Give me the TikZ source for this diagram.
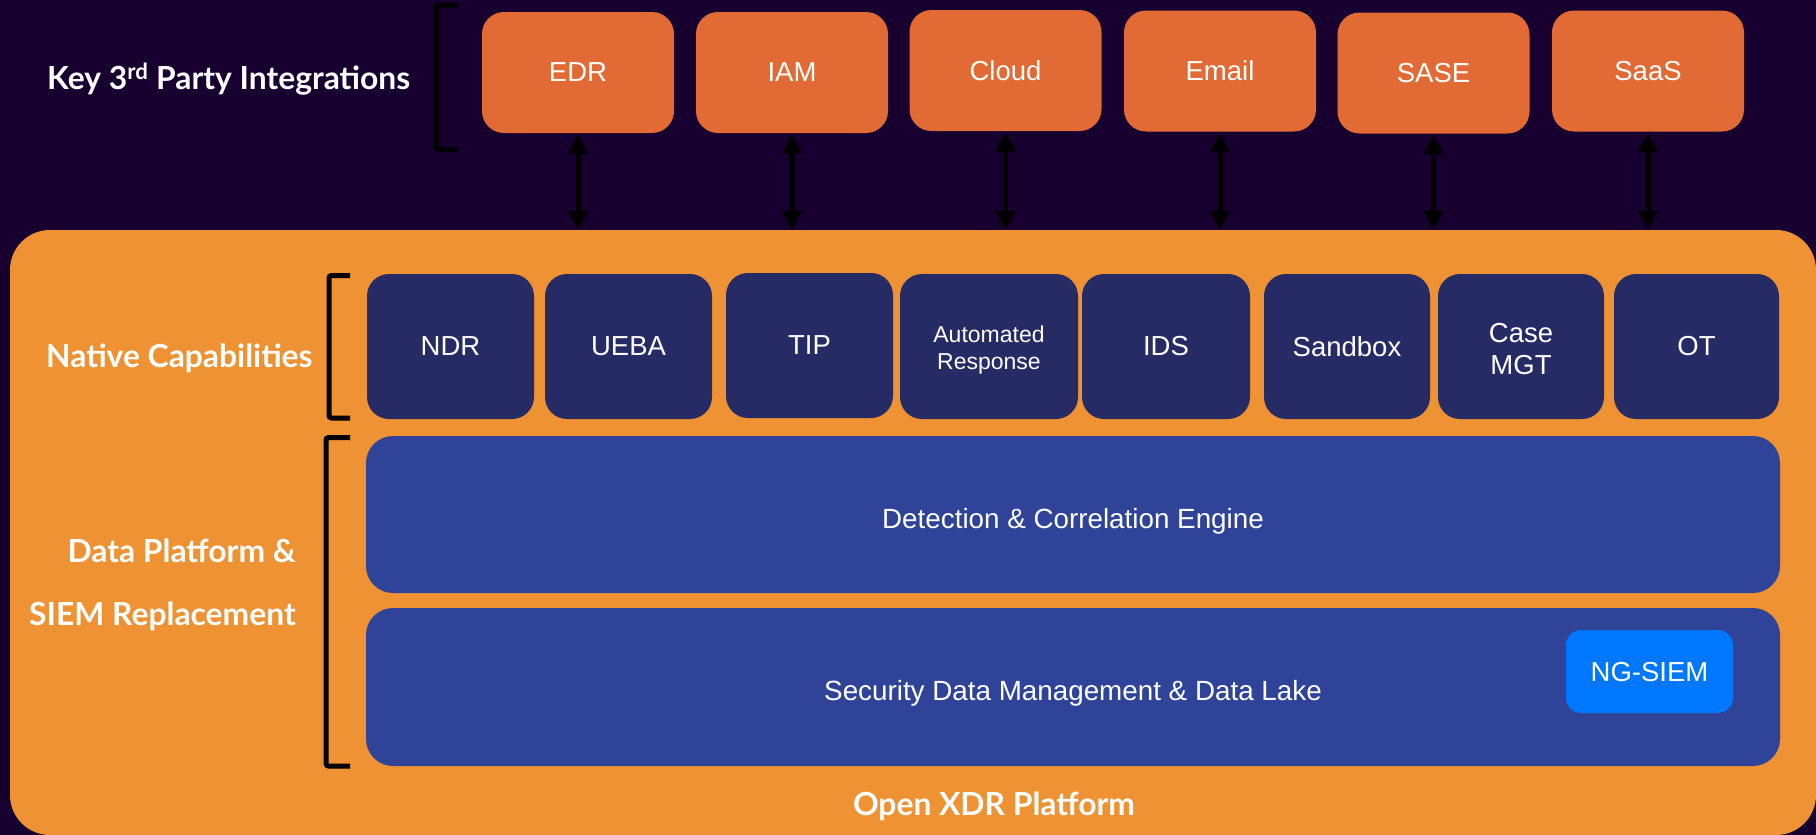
\documentclass[tikz,border=0pt]{standalone}
\usepackage{fontspec}
\setmainfont{Liberation Sans}
\newfontfamily\latofont{Lato}
\usetikzlibrary{arrows.meta}

\definecolor{bgpurple}{HTML}{170030}
\definecolor{intorange}{HTML}{E26A35}
\definecolor{platorange}{HTML}{EF9234}
\definecolor{capnavy}{HTML}{262B65}
\definecolor{barblue}{HTML}{2F4398}
\definecolor{siemblue}{HTML}{0077FF}

% two centred lines, lowered by #1, taking no vertical room in the node
\newcommand{\twolines}[3]{\raisebox{#1}[0pt][0pt]{\begin{tabular}{@{}c@{}}#2\\#3\end{tabular}}}

\begin{document}
\begin{tikzpicture}[x=1pt,y=-1pt,
  box/.style={rectangle, inner sep=0pt, text=white, align=center,
    font=\fontsize{27.5}{32.5}\selectfont},
  integ/.style={box, fill=intorange, rounded corners=22pt, text depth=0pt,
    minimum width=192pt, minimum height=121pt},
  capbox/.style={box, fill=capnavy, rounded corners=22pt,
    minimum height=145pt},
  bar/.style={box, fill=barblue, rounded corners=27pt, text height=27pt,
    text depth=0pt, minimum width=1414pt, font=\fontsize{27.8}{32.5}\selectfont},
  lbl/.style={inner sep=0pt, text=white,
    font=\latofont\bfseries\fontsize{31.8}{38}\selectfont},
  bracket/.style={draw=black, line width=5pt, rounded corners=2.5pt},
  biarrow/.style={draw=black, line width=5pt,
    {Triangle[width=19pt,length=19pt]}-{Triangle[width=19pt,length=19pt]},
    shorten <=1.5pt}
]
% canvas
\fill[bgpurple] (0,0) rectangle (1816,835);
\useasboundingbox (0,0) rectangle (1816,835);

% platform base
\node[rectangle, fill=platorange, rounded corners=40pt, inner sep=0pt,
      minimum width=1806pt, minimum height=605pt] (platform) at (913,532.5) {};

% third-party integrations
\node[integ] (edr)   at (578,72.5)   {EDR};
\node[integ] (iam)   at (792,72.5)   {IAM};
\node[integ] (cloud) at (1005.5,70.5) {Cloud};
\node[integ] (email) at (1220,71)    {Email};
\node[integ] (sase)  at (1433.5,73)  {SASE};
\node[integ] (saas)  at (1648,71)    {SaaS};

\foreach \n in {edr,iam,cloud,email,sase,saas}
  \draw[biarrow] (\n.south) -- (\n.south |- platform.north);

% native capabilities
\node[capbox, minimum width=167pt] (ndr)     at (450.5,346.5) {NDR};
\node[capbox, minimum width=167pt] (ueba)    at (628.5,346.5) {UEBA};
\node[capbox, minimum width=167pt] (tip)     at (809.5,345.5) {TIP};
\node[capbox, minimum width=178pt,
      font=\fontsize{23}{27.3}\selectfont] (auto) at (989,346.5)
      {\twolines{-10.2pt}{Automated}{Response}};
\node[capbox, minimum width=168pt] (ids)     at (1166,346.5) {IDS};
\node[capbox, minimum width=166pt] (sandbox) at (1347,346.5) {Sandbox};
\node[capbox, minimum width=166pt] (casemgt) at (1521,346.5)
      {\twolines{-11.8pt}{Case}{MGT}};
\node[capbox, minimum width=165pt] (ot)      at (1696.5,346.5) {OT};

% data platform layers
\node[bar, minimum height=157pt] (engine) at (1073,514.5) {Detection \& Correlation Engine};
\node[bar, minimum height=158pt] (lake)   at (1073,687)   {Security Data Management \& Data Lake};
\node[box, fill=siemblue, rounded corners=15pt, minimum width=167pt, text depth=0pt,
      minimum height=83pt] (ngsiem) at (1649.5,671.5) {NG-SIEM};

% group labels
\node[lbl, anchor=base west] (keylbl)    at (47,89)   {Key 3\textsuperscript{rd} Party Integrations};
\node[lbl, anchor=base west] (nativelbl) at (46,367)  {Native Capabilities};
\node[lbl, anchor=base east] (datalbla)  at (296,562) {Data Platform \&};
\node[lbl, anchor=base east] (datalblb)  at (296,625) {SIEM Replacement};
\node[lbl, anchor=base]      (xdrlbl)    at (994,815) {Open XDR Platform};

% brackets
\draw[bracket] (458,5) -- (436,5) -- (436,149.5) -- (458,149.5);
\draw[bracket] (350,275.5) -- (329,275.5) -- (329,418) -- (350,418);
\draw[bracket] (350,437.5) -- (326,437.5) -- (326,766) -- (350,766);
\end{tikzpicture}
\end{document}
